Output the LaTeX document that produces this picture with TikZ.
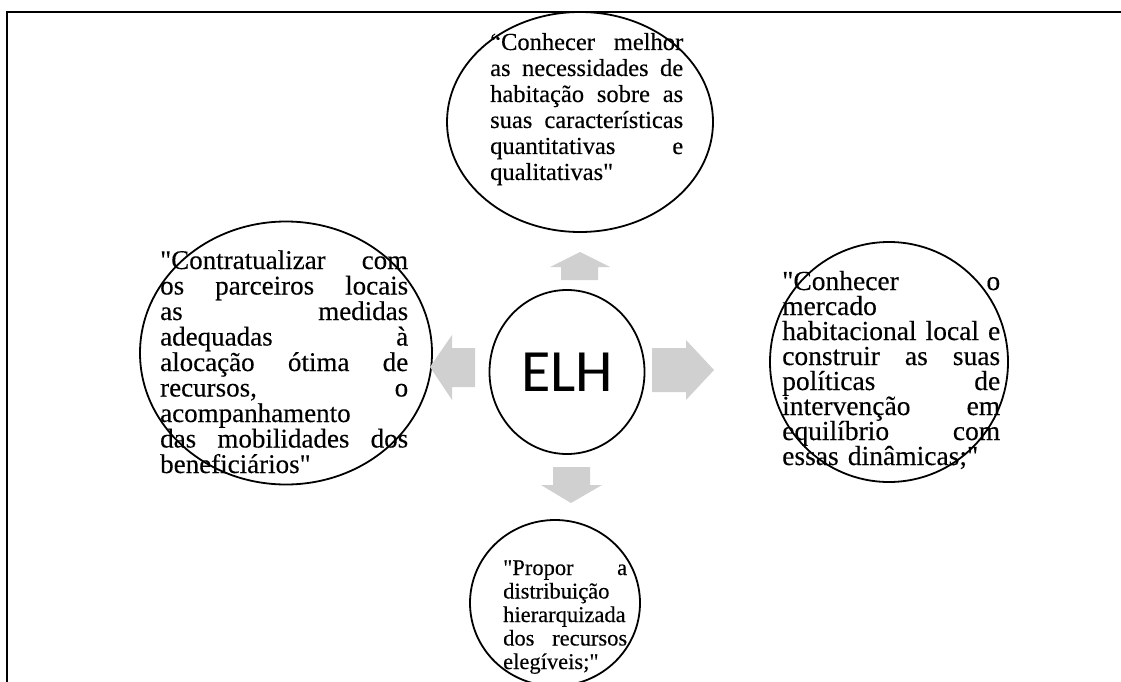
\documentclass[tikz,border=0pt]{standalone}
\usepackage{fontspec}
\setmainfont{Liberation Serif}
\newfontfamily\qfont{Liberation Serif}[Ligatures=TeXOff, FakeBold=0.3]
\newfontfamily\calibfont{Carlito}
\usetikzlibrary{shapes.geometric}
\definecolor{arrowgray}{HTML}{D0D0D0}
\newlength{\qw}
\newcommand{\jl}[1]{\makebox[\qw][s]{\spaceskip=0pt\xspaceskip=0pt #1}}
\begin{document}
\begin{tikzpicture}[x=1pt,y=-1pt,
  bubble/.style={draw=black, line width=1.8pt, ellipse, inner sep=0pt, outer sep=0pt},
  quote/.style={inner sep=0pt, anchor=base west, align=left, text width=#1,
     execute at begin node={\setlength{\qw}{#1}}},
  blockarrow/.style={fill=arrowgray, draw=none},
  frameline/.style={line width=2.5pt, draw=black}
]
\useasboundingbox (0,0) rectangle (1121,682);
% frame
\coordinate (ftr) at (1121,12);
\coordinate (ftl) at (7,12);
\coordinate (fbl) at (7,682);
\draw[frameline] (ftr) -- (ftl) -- (fbl);

% bubbles
\node[bubble, minimum width=266pt, minimum height=220pt] (top) at (580,122) {};
\node[bubble, minimum width=292pt, minimum height=263pt] (left) at (286,353) {};
\node[bubble, minimum width=238pt, minimum height=240pt] (right) at (889,362) {};
\node[bubble, minimum width=170pt, minimum height=166pt] (bottom) at (555,603) {};
\node[bubble, minimum width=155pt, minimum height=164pt] (elh) at (567,372) {\calibfont\fontsize{60}{60}\selectfont ELH};

% texts
\node[quote=193pt, font=\qfont\fontsize{24.5}{26}\selectfont] (toptext) at (490,50)
 {\jl{“Conhecer melhor}\\ \jl{as necessidades de}\\ \jl{habitação sobre as}\\ \jl{suas características}\\ \jl{quantitativas e}\\ qualitativas"};
\node[quote=248pt, font=\qfont\fontsize{27}{25.5}\selectfont] (lefttext) at (160,269)
 {\jl{"Contratualizar com}\\ \jl{os parceiros locais}\\ \jl{as medidas}\\ \jl{adequadas à}\\ \jl{alocação ótima de}\\ \jl{recursos, o}\\ acompanhamento\\ \jl{das mobilidades dos}\\ beneficiários"};
\node[quote=218pt, font=\qfont\fontsize{27.5}{25}\selectfont] (righttext) at (782,290)
 {\jl{"Conhecer o}\\ mercado\\ \jl{habitacional local e}\\ \jl{construir as suas}\\ \jl{políticas de}\\ \jl{intervenção em}\\ \jl{equilíbrio com}\\ essas dinâmicas;"};
\node[quote=124pt, font=\qfont\fontsize{22.5}{23.5}\selectfont] (bottomtext) at (503,575)
 {\jl{"Propor a}\\ distribuição\\ hierarquizada\\ \jl{dos recursos}\\ elegíveis;"};

% block arrows
\path[blockarrow] (580,252) -- (610,267) -- (598,267) -- (598,280) -- (561,280) -- (561,267) -- (550,267) -- cycle;
\path[blockarrow] (430,367) -- (452,335) -- (452,348) -- (475,348) -- (475,387) -- (452,387) -- (452,400) -- cycle;
\path[blockarrow] (714,370) -- (686,340) -- (686,348) -- (652,348) -- (652,392) -- (686,392) -- (686,400) -- cycle;
\path[blockarrow] (571,503) -- (541,485) -- (553,485) -- (553,467) -- (590,467) -- (590,485) -- (602,485) -- cycle;
\end{tikzpicture}
\end{document}
